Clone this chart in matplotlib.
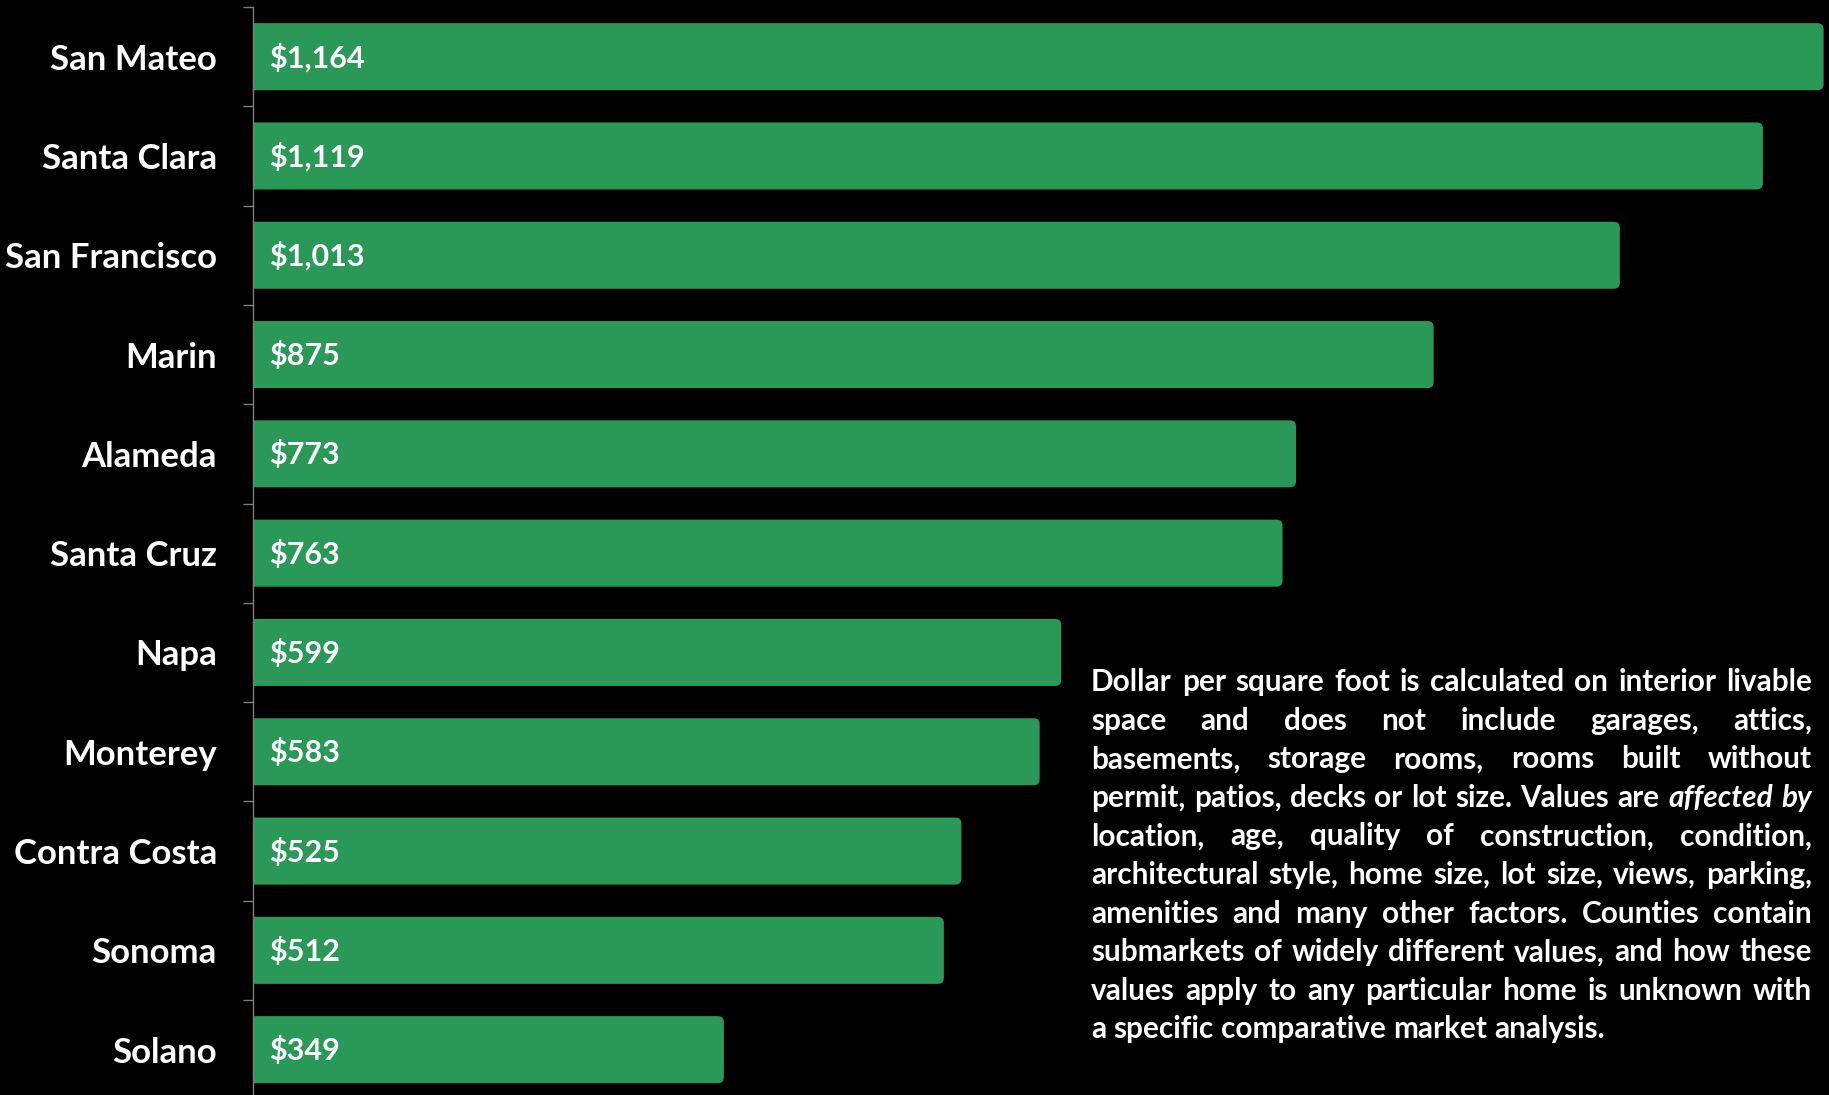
import matplotlib
matplotlib.use('Agg')
import matplotlib.pyplot as plt
from matplotlib.patches import FancyBboxPatch

plt.rcParams['font.family'] = ['Lato', 'DejaVu Sans']

# Median price per square foot by county
counties = ['San Mateo', 'Santa Clara', 'San Francisco', 'Marin', 'Alameda',
            'Santa Cruz', 'Napa', 'Monterey', 'Contra Costa', 'Sonoma', 'Solano']
price_per_sqft = [1164, 1119, 1013, 875, 773, 763, 599, 583, 525, 512, 349]

# Footnote, one entry per printed line; words wrapped in _ are italic
note_lines = [
    'Dollar per square foot is calculated on interior livable',
    'space and does not include garages, attics,',
    'basements, storage rooms, rooms built without',
    'permit, patios, decks or lot size. Values are _affected_ _by_',
    'location, age, quality of construction, condition,',
    'architectural style, home size, lot size, views, parking,',
    'amenities and many other factors. Counties contain',
    'submarkets of widely different values, and how these',
    'values apply to any particular home is unknown with',
    'a specific comparative market analysis.',
]

BAR_GREEN = '#2a9856'
W, H = 1829, 1095

fig = plt.figure(figsize=(W / 100, H / 100), dpi=100, facecolor='black')
ax = fig.add_axes([253 / W, 0, (W - 253) / W, (H - 7) / H])
ax.set_facecolor('black')

y = list(range(len(counties)))
bars = ax.barh(y, price_per_sqft, height=0.675, color=BAR_GREEN)

x_max = 1168
ax.set_xlim(0, x_max)
step_px = 99.3
ax.set_ylim(-0.5 + (H - 7) / step_px, -0.5)

# swap the plain bars for ones with rounded corners
px_per_x = (W - 253) / x_max
radius_px = 6
r = radius_px / px_per_x
for b in bars:
    b.set_visible(False)
    bx, by = b.get_x(), b.get_y()
    bw, bh = b.get_width(), b.get_height()
    patch = FancyBboxPatch((bx - 2 * r, by), bw + 2 * r, bh,
                           boxstyle=f'round,pad=0,rounding_size={r}',
                           mutation_aspect=(radius_px / step_px) / r,
                           facecolor=BAR_GREEN, edgecolor='none')
    ax.add_patch(patch)

for yi, v in zip(y, price_per_sqft):
    ax.text(16 / px_per_x, yi + 0.01, f'${v:,}', color='white', fontsize=22,
            fontweight='bold', va='center', ha='left')

# tick marks sit between the categories, names are on minor ticks
ax.set_yticks([i - 0.5 for i in range(len(counties))])
ax.set_yticklabels([])
ax.set_yticks(y, minor=True)
ax.set_yticklabels(counties, minor=True, fontsize=25, fontweight='bold', color='white')
ax.tick_params(axis='y', which='major', length=7.5, color='#7f7f7f', width=1)
ax.tick_params(axis='y', which='minor', length=0, pad=26)
ax.set_xticks([])
for s in ['top', 'right', 'bottom']:
    ax.spines[s].set_visible(False)
ax.spines['left'].set_color('#7f7f7f')
ax.spines['left'].set_linewidth(1)

# justified footnote block
box_left, box_right = 1091, 1812
first_base, line_gap = 691, 38.6
fig.canvas.draw()
renderer = fig.canvas.get_renderer()


def text_width(s, size, style='normal'):
    t = fig.text(0, 0, s, fontsize=size, fontweight='bold', fontstyle=style)
    wd = t.get_window_extent(renderer).width
    t.remove()
    return wd


# biggest size at which every full line still fits the box
base_size = 19
widest = max(text_width(l.replace('_', ''), base_size) for l in note_lines[:-1])
note_size = base_size * (box_right - box_left) / widest * 0.995
space_w = text_width('a b', note_size) - text_width('ab', note_size)

for li, line in enumerate(note_lines):
    base = first_base + li * line_gap
    words = []
    for w in line.split():
        italic = w.startswith('_') and w.endswith('_')
        w = w.strip('_')
        t = fig.text(0, 1 - base / H, w, fontsize=note_size, fontweight='bold',
                     fontstyle='italic' if italic else 'normal',
                     color='white', va='baseline', ha='left')
        words.append(t)
    widths = [t.get_window_extent(renderer).width for t in words]
    if li < len(note_lines) - 1 and len(words) > 1:
        gap = (box_right - box_left - sum(widths)) / (len(words) - 1)
    else:
        gap = space_w
    x = box_left
    for t, wd in zip(words, widths):
        t.set_x(x / W)
        x += wd + gap

fig.savefig('out.png', dpi=100, facecolor='black')
